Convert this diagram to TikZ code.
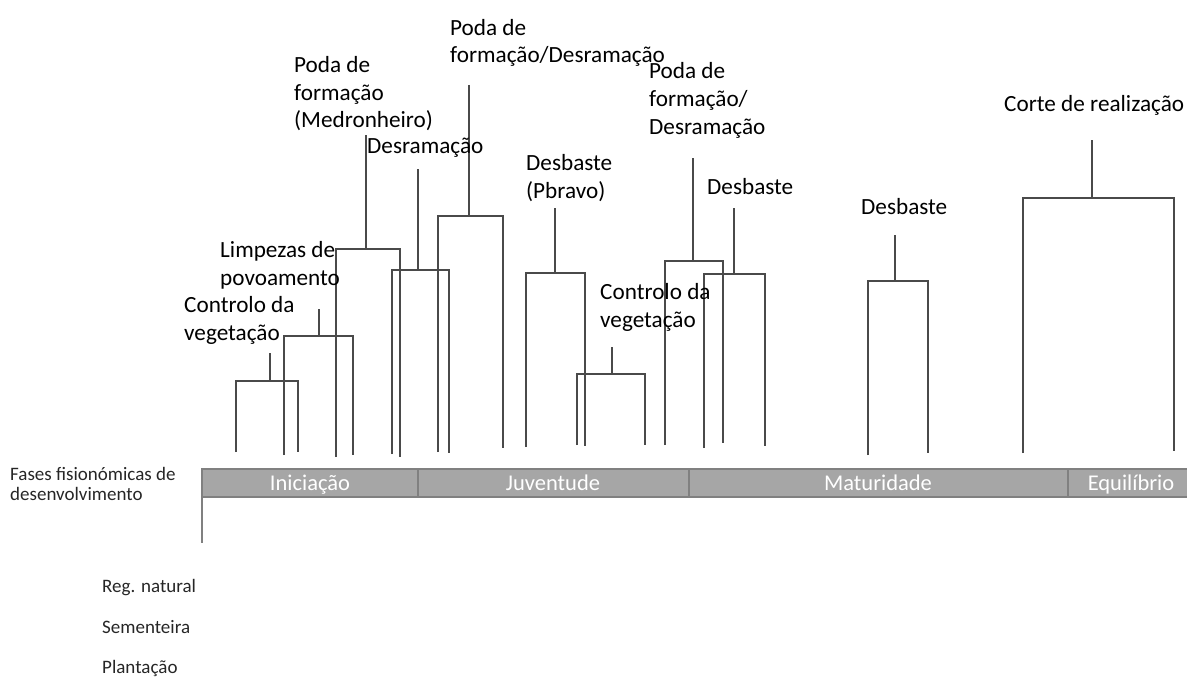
\documentclass[tikz,border=0pt]{standalone}
\usepackage{fontspec}
\setmainfont{Carlito}
\definecolor{barfill}{HTML}{A6A6A6}
\definecolor{barline}{HTML}{808080}
\definecolor{lncol}{HTML}{4A4A4A}
\newcommand\brk[8]{%
  \coordinate (#1t) at (#2,#3); \coordinate (#1m) at (#2,#4);
  \coordinate (#1l) at (#5,#4); \coordinate (#1r) at (#6,#4);
  \coordinate (#1lb) at (#5,#7); \coordinate (#1rb) at (#6,#8);
  \draw[ln] (#1t) -- (#1m);
  \draw[ln] (#1lb) -- (#1l) -- (#1r) -- (#1rb);}
\begin{document}
\begin{tikzpicture}[x=1pt,y=-1pt,
  lab/.style={font=\fontsize{23.2}{27.5}\selectfont, inner sep=0, anchor=base west, align=left, text=black},
  sml/.style={font=\fontsize{19}{19.5}\selectfont, inner sep=0, anchor=base west, align=left, text=black!85},
  bartxt/.style={font=\fontsize{22.5}{27}\selectfont, text=white, inner sep=0, anchor=base},
  ln/.style={draw=lncol, line width=1.2pt},
  barseg/.style={fill=barfill, draw=barline, line width=1.5pt}]
\useasboundingbox (0,0) rectangle (1187,677);

% phase bar
\draw[barseg] (202,469) rectangle (418,497);
\draw[barseg] (418,469) rectangle (689,497);
\draw[barseg] (689,469) rectangle (1068,497);
\draw[barseg] (1068,469) rectangle (1200,497);
\node[bartxt] (ini) at (310,490) {Iniciação};
\node[bartxt] (juv) at (553,490) {Juventude};
\node[bartxt] (mat) at (878,490) {Maturidade};
\node[bartxt] (equ) at (1131,490) {Equilíbrio};
\coordinate (ax0) at (202,497);
\coordinate (ax1) at (202,543);
\draw[draw=barline, line width=1.5pt] (ax0) -- (ax1);

% left texts
\node[sml] (fases) at (10,500) {Fases fisionómicas de\\desenvolvimento};
\node[sml] (reg) at (102,592) {Reg. natural};
\node[sml] (sem) at (102,633) {Sementeira};
\node[sml] (pla) at (102,673) {Plantação};

% brackets
\brk{a}{270}{353}{381}{236}{298}{452}{452}
\brk{b}{319}{309}{336}{284}{353}{455}{455}
\brk{c}{366}{135}{249}{336}{400}{457}{457}
\brk{d}{418}{169}{270}{392}{449}{454}{453}
\brk{e}{469}{85}{216}{438}{503}{452}{448}
\brk{f}{555}{208}{273}{526}{585}{447}{446}
\brk{g}{612}{347}{374}{577}{645}{445}{445}
\brk{h}{693}{158}{261}{665}{723}{445}{443}
\brk{i}{734}{208}{274}{704}{765}{448}{446}
\brk{j}{895}{235}{281}{868}{928}{455}{453}
\brk{k}{1092}{140}{198}{1023}{1174}{453}{451}

% labels (anchor = baseline of the last line)
\node[lab] (la) at (184,340) {Controlo da\\vegetação};
\node[lab] (lb) at (220,285) {Limpezas de\\povoamento};
\node[lab] (lc) at (294,128) {Poda de\\formação\\(Medronheiro)};
\node[lab] (ld) at (367,153) {Desramação};
\node[lab] (le) at (450,63) {Poda de\\formação/Desramação};
\node[lab] (lf) at (526,198) {Desbaste\\(Pbravo)};
\node[lab] (lg) at (600,327) {Controlo da\\vegetação};
\node[lab] (lh) at (649,134) {Poda de\\formação/\\Desramação};
\node[lab] (li) at (707,194) {Desbaste};
\node[lab] (lj) at (861,214) {Desbaste};
\node[lab] (lk) at (1004,112) {Corte de realização};
\end{tikzpicture}
\end{document}
